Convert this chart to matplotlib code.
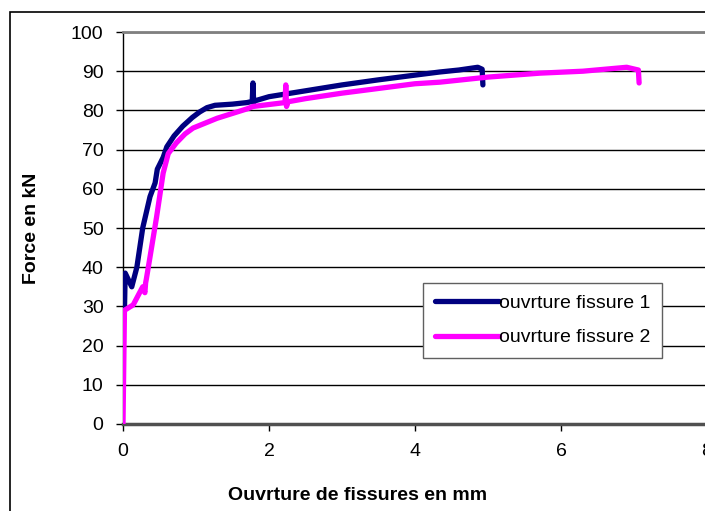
import matplotlib
matplotlib.use("Agg")
import matplotlib.pyplot as plt
from matplotlib.patches import Rectangle

plt.rcParams['font.family'] = ['Liberation Sans', 'DejaVu Sans']

# ouverture fissure 1 (navy)
x1 = [0.02, 0.03, 0.12, 0.19, 0.27, 0.37, 0.44, 0.47, 0.55, 0.60, 0.70, 0.82, 0.95,
      1.05, 1.15, 1.26, 1.50, 1.70, 1.77, 1.78, 1.79, 1.80, 2.0, 2.5, 3.0, 3.5, 4.0,
      4.34, 4.6, 4.86, 4.92, 4.93]
f1 = [29.0, 38.5, 35.0, 40.0, 50.0, 58.0, 61.5, 65.0, 68.0, 70.7, 73.5, 76.0, 78.2,
      79.6, 80.7, 81.3, 81.6, 82.0, 82.3, 87.0, 82.0, 82.4, 83.5, 85.0, 86.5, 87.8, 89.0,
      89.8, 90.3, 91.0, 90.5, 86.5]

# ouverture fissure 2 (magenta)
x2 = [0.0, 0.02, 0.14, 0.27, 0.30, 0.31, 0.32, 0.37, 0.46, 0.55, 0.62, 0.73, 0.85,
      0.96, 1.29, 1.70, 1.78, 2.22, 2.23, 2.24, 2.26, 2.5, 3.0, 3.5, 4.0, 4.34, 5.0,
      5.71, 6.3, 6.9, 7.06, 7.07]
f2 = [0.0, 29.0, 30.4, 35.0, 33.5, 36.0, 37.0, 42.6, 52.8, 64.0, 69.0, 71.7, 74.0,
      75.5, 78.0, 80.4, 81.0, 82.0, 86.5, 81.0, 82.2, 83.0, 84.4, 85.6, 86.8, 87.2, 88.5,
      89.5, 90.0, 91.0, 90.3, 87.0]

yticks = list(range(0, 101, 10))
xticks = [0, 2, 4, 6, 8]
labels = ['ouvrture fissure 1', 'ouvrture fissure 2']

W, H = 705, 511
fig = plt.figure(figsize=(W / 100, H / 100), dpi=100)
fig.patches.append(Rectangle((10 / W, -0.1), 1.2, 1 - 12 / H + 0.1,
                             transform=fig.transFigure, fill=False,
                             edgecolor='black', linewidth=1.2))

ax = fig.add_axes([123 / W, 1 - 424 / H, (707 - 123) / W, (424 - 32) / H])
ax.plot(x1, f1, color='#000080', linewidth=3.8, solid_capstyle='round',
        solid_joinstyle='round', label=labels[0], zorder=3)
ax.plot(x2, f2, color='#FF00FF', linewidth=3.8, solid_capstyle='round',
        solid_joinstyle='round', label=labels[1], zorder=3)

ax.set_xlim(0, 8)
ax.set_ylim(0, 100)
ax.set_xticks(xticks)
ax.set_yticks(yticks)
ax.tick_params(labelsize=14, direction='out', length=5, width=1, colors='black')
ax.tick_params(axis='y', pad=9)
ax.tick_params(axis='x', pad=9)
ax.grid(axis='y', color='black', linewidth=1)
ax.set_axisbelow(True)

ax.spines['left'].set_color('black')
ax.spines['left'].set_linewidth(1)
ax.spines['bottom'].set_color('#505050')
ax.spines['bottom'].set_linewidth(2.5)
ax.spines['top'].set_color('#808080')
ax.spines['top'].set_linewidth(2)
ax.spines['right'].set_visible(False)

ax.set_ylabel('Force en kN', fontsize=14, fontweight='bold', labelpad=22)
fig.text(358 / W, 1 - 495 / H, 'Ouvrture de fissures en mm', fontsize=14,
         fontweight='bold', ha='center', va='center')

leg = ax.legend(loc='upper left', bbox_to_anchor=((423 - 123) / 584, 1 - (283 - 32) / 392),
                fontsize=14, frameon=True, fancybox=False, handlelength=3.3,
                borderpad=0.6, labelspacing=0.85, handletextpad=0.0, borderaxespad=0)
leg.get_frame().set_edgecolor('#606060')
leg.get_frame().set_linewidth(1)
leg.get_frame().set_alpha(1)

fig.savefig('out.png', dpi=100)
